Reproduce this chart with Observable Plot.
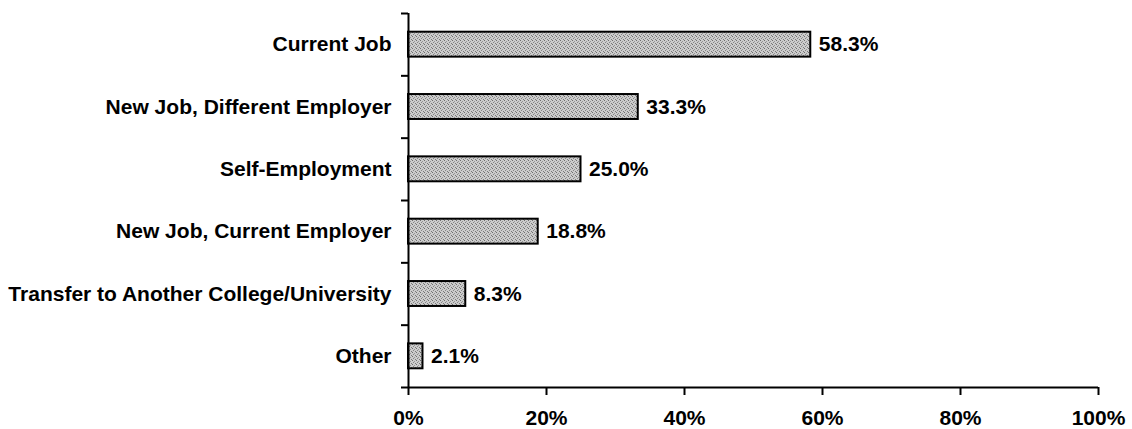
<!DOCTYPE html>
<html><head><meta charset="utf-8">
<script src="https://cdn.jsdelivr.net/npm/d3@7"></script>
<script src="https://cdn.jsdelivr.net/npm/@observablehq/plot@0.6"></script>
<style>body{margin:0;background:#fff}</style>
</head><body><div id="chart"></div>
<script>
const categories = ["Current Job", "New Job, Different Employer", "Self-Employment", "New Job, Current Employer", "Transfer to Another College/University", "Other"];
const values = [58.3, 33.3, 25.0, 18.8, 8.3, 2.1];
const xTicks = [0, 20, 40, 60, 80, 100];
const rows = categories.map((c, i) => ({category: c, value: values[i], i}));

const chart = Plot.plot({
  width: 1132, height: 429,
  marginLeft: 408, marginRight: 34, marginTop: 13, marginBottom: 42,
  x: {domain: [0, 100], label: null},
  y: {domain: [0, categories.length], reverse: true, label: null},
  style: {fontFamily: "'Liberation Sans', Arial, sans-serif", fontSize: "21px", fontWeight: "bold", background: "white", color: "black"},
  marks: [
    Plot.rectX(rows, {x1: 0, x2: "value", y1: d => d.i + 0.3, y2: d => d.i + 0.7, fill: "url(#stipple)", stroke: "black", strokeWidth: 2}),
    Plot.ruleX([0], {y1: 0, y2: categories.length, strokeWidth: 2}),
    Plot.ruleY([categories.length], {x1: 0, x2: 100, strokeWidth: 2}),
    Plot.axisY(d3.range(categories.length + 1), {tickSize: 7, tickFormat: () => "", strokeWidth: 2}),
    Plot.axisX(xTicks, {tickSize: 8, tickPadding: 15, tickFormat: d => d + "%", strokeWidth: 2, fontSize: 21, fontWeight: "bold"}),
    Plot.text(rows, {x: 0, y: d => d.i + 0.5, text: "category", textAnchor: "end", dx: -17, fontSize: 21, fontWeight: "bold"}),
    Plot.text(rows, {x: "value", y: d => d.i + 0.5, text: d => d.value.toFixed(1) + "%", textAnchor: "start", dx: 8, fontSize: 21, fontWeight: "bold"})
  ]
});
const ns = "http://www.w3.org/2000/svg";
const defs = document.createElementNS(ns, "defs");
defs.innerHTML = `<pattern id="stipple" width="4" height="4" patternUnits="userSpaceOnUse">
<rect width="4" height="4" fill="#cccccc"/>
<rect x="0" y="0" width="1" height="1" fill="#6e6e6e"/>
<rect x="2" y="1" width="1" height="1" fill="#959595"/>
<rect x="1" y="2" width="1" height="1" fill="#858585"/>
<rect x="3" y="3" width="1" height="1" fill="#7a7a7a"/>
</pattern>`;
chart.prepend(defs);
document.getElementById("chart").appendChild(chart);
</script>
</body></html>
